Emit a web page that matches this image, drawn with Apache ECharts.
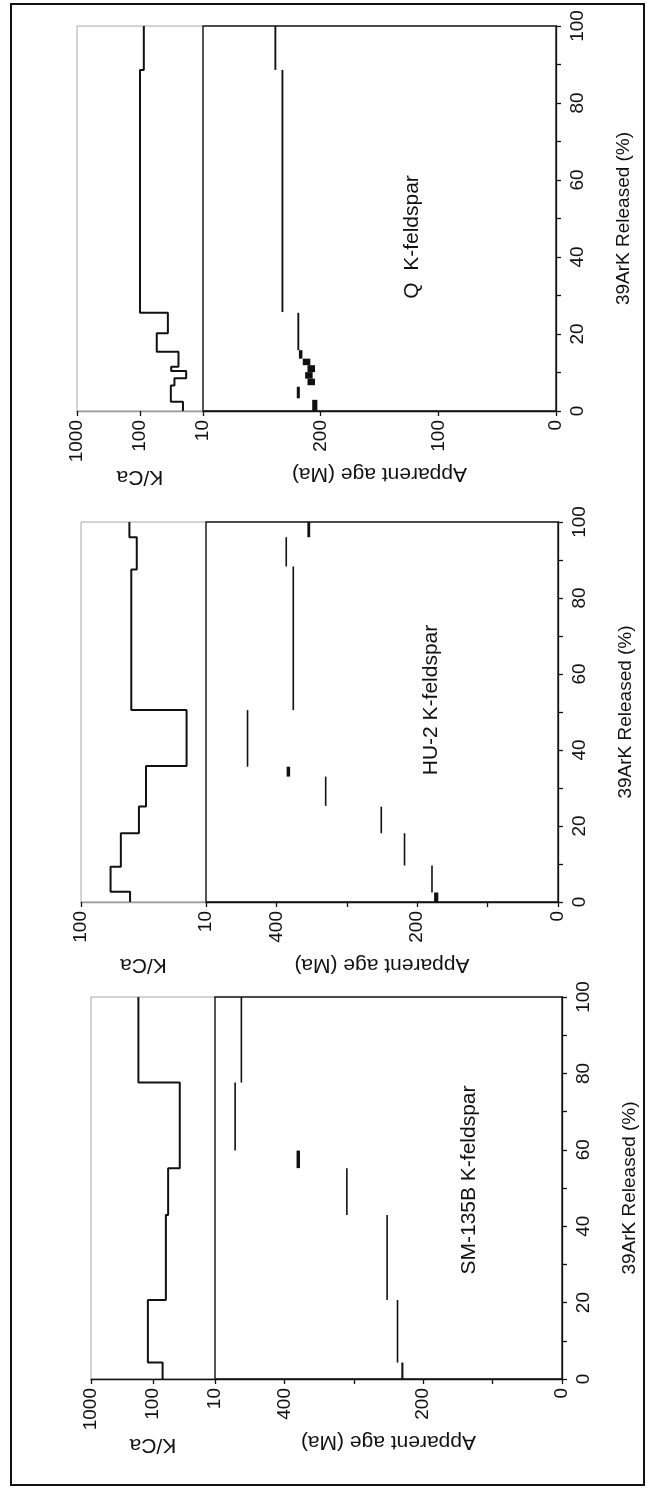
<!DOCTYPE html>
<html><head><meta charset="utf-8">
<script src="https://cdn.jsdelivr.net/npm/echarts@6/dist/echarts.min.js"></script>
<style>html,body{margin:0;padding:0;background:#fff}#c{width:652px;height:1490px}</style>
</head><body><div id="c"></div>
<script>
// ---------------- DATA ----------------
const panelTitles = ['SM-135B K-feldspar', 'HU-2 K-feldspar', 'Q  K-feldspar'];
const pctAxisName = '39ArK Released (%)';
const kcaAxisName = 'K/Ca';
const ageAxisName = 'Apparent age (Ma)';

// K/Ca step spectra: cumulative 39ArK released (%) boundaries and K/Ca of each step
const kca1Pct = [0, 4.3, 20.7, 42.9, 55.2, 77.6, 100];
const kca1Val = [70, 121, 62, 57, 37, 172];
const kca2Pct = [0, 2.7, 9.3, 18.1, 25.1, 35.8, 50.5, 87.5, 96, 100];
const kca2Val = [40.5, 58, 48, 34.4, 30.2, 14.3, 39.6, 35.8, 41];
const kca3Pct = [0, 2.4, 6.6, 8.5, 10.4, 11.5, 15.4, 20.2, 25.5, 88.6, 100];
const kca3Val = [20.8, 32.4, 28.4, 18.5, 32, 24.5, 54.2, 36.1, 100, 87];

// Age spectra: step start %, end %, apparent age (Ma), half-width of error (Ma)
const age1Start = [0, 4.3, 20.7, 42.9, 55.2, 59.8, 77.6];
const age1End   = [4.3, 20.7, 42.9, 55.2, 59.8, 77.6, 100];
const age1Val   = [230, 237, 252, 310, 380, 471, 462];
const age1Err   = [1.5, 1, 1, 1, 2.5, 1, 1];

const age2Start = [0, 2.5, 9.6, 18.1, 25.3, 33, 35.6, 50.5, 88.3, 96];
const age2End   = [2.5, 9.6, 18.1, 25.1, 33, 35.6, 50.5, 88.3, 96, 100];
const age2Val   = [173, 179, 218, 251, 330, 383, 441, 376, 386, 354];
const age2Err   = [3, 1, 1, 1, 1, 2.5, 1, 1, 1, 2];

const age3Start = [0, 3.3, 6.7, 8.4, 10.1, 11.9, 13.6, 15.8, 25.7, 88.6];
const age3End   = [2.9, 6.3, 8.4, 10.1, 11.9, 13.6, 15.8, 25.5, 88.6, 100];
const age3Val   = [205, 219, 208, 210, 208, 212, 217, 219, 232.5, 238.5];
const age3Err   = [2.2, 1.3, 3.2, 3.2, 3.2, 3.2, 1.5, 0.8, 0.8, 0.8];

// Axis ranges
const kcaMin = [10, 10, 10];
const kcaMax = [1000, 100, 1000];
const ageMax = [500, 500, 300];
const ageLabelStep = [200, 200, 100];
const pctLabelStep = 20;

// ---------------- LAYOUT ----------------
const FONT = '"Liberation Sans", Arial, sans-serif';
const layout = [
  {top: 997, height: 382, kLeft: 91, split: 215, right: 562, title: [469, 1180], kcaLine: '#111'},
  {top: 522, height: 380, kLeft: 81, split: 206, right: 558, title: [431, 700], kcaLine: '#999'},
  {top: 26,  height: 385, kLeft: 77, split: 203, right: 556, title: [412, 237], kcaLine: '#999'}
];
const kcaPct = [kca1Pct, kca2Pct, kca3Pct];
const kcaVal = [kca1Val, kca2Val, kca3Val];
const ageS = [age1Start, age2Start, age3Start];
const ageE = [age1End, age2End, age3End];
const ageV = [age1Val, age2Val, age3Val];
const ageErr = [age1Err, age2Err, age3Err];

const grid = [], xAxis = [], yAxis = [], series = [], graphic = [];

layout.forEach((L, i) => {
  const gK = grid.length;
  grid.push({left: L.kLeft, top: L.top, width: L.split - L.kLeft, height: L.height,
    show: true, borderColor: '#a8a8a8', borderWidth: 1, backgroundColor: 'transparent'});
  const gA = grid.length;
  grid.push({left: L.split, top: L.top, width: L.right - L.split, height: L.height,
    show: true, borderColor: '#111', borderWidth: 1.3, backgroundColor: 'transparent'});

  // K/Ca axis (log)
  xAxis.push({type: 'log', logBase: 10, gridIndex: gK, min: kcaMin[i], max: kcaMax[i], inverse: true,
    position: 'bottom',
    axisLine: {show: true, lineStyle: {color: L.kcaLine, width: 1.3}},
    axisTick: {show: true, length: 5, lineStyle: {color: '#111', width: 1.3}},
    minorTick: {show: false}, splitLine: {show: false},
    axisLabel: {rotate: 90, margin: 9, fontSize: 19, color: '#111', fontFamily: FONT, showMaxLabel: true, showMinLabel: true,
      formatter: v => String(Math.round(v))},
    name: kcaAxisName, nameLocation: 'middle', nameRotate: 180, nameGap: 52,
    nameTextStyle: {fontSize: 21, color: '#111', fontFamily: FONT}});
  yAxis.push({type: 'value', gridIndex: gK, min: 0, max: 100, show: false});

  // Age axis
  xAxis.push({type: 'value', gridIndex: gA, min: 0, max: ageMax[i], interval: 100, inverse: true,
    position: 'bottom',
    axisLine: {show: true, lineStyle: {color: '#111', width: 1.3}},
    axisTick: {show: true, length: 5, lineStyle: {color: '#111', width: 1.3}},
    splitLine: {show: false},
    axisLabel: {rotate: 90, margin: 9, fontSize: 19, color: '#111', fontFamily: FONT, showMaxLabel: false,
      formatter: v => (v % ageLabelStep[i] === 0 && v < ageMax[i]) ? String(v) : ''},
    name: ageAxisName, nameLocation: 'middle', nameRotate: 180, nameGap: 52,
    nameTextStyle: {fontSize: 21, color: '#111', fontFamily: FONT}});
  yAxis.push({type: 'value', gridIndex: gA, min: 0, max: 100, interval: 10, position: 'right',
    axisLine: {show: true, lineStyle: {color: '#111', width: 1.3}},
    axisTick: {show: true, length: 5, lineStyle: {color: '#111', width: 1.3}},
    splitLine: {show: false},
    axisLabel: {rotate: 90, margin: 12, fontSize: 19, color: '#111', fontFamily: FONT,
      formatter: v => (v % pctLabelStep === 0) ? String(v) : ''},
    name: pctAxisName, nameLocation: 'middle', nameRotate: 90, nameGap: 58,
    nameTextStyle: {fontSize: 19, color: '#111', fontFamily: FONT}});

  // K/Ca step line built from the step arrays
  const pts = [];
  kcaVal[i].forEach((v, k) => { pts.push([v, kcaPct[i][k]]); pts.push([v, kcaPct[i][k + 1]]); });
  series.push({type: 'line', xAxisIndex: gK, yAxisIndex: gK, data: pts, showSymbol: false, symbol: 'none',
    lineStyle: {color: '#111', width: 2}, animation: false, silent: true});

  // Age steps as boxes (age ± err over the % interval)
  const d = ageV[i].map((v, k) => [v, ageS[i][k], ageE[i][k], ageErr[i][k]]);
  series.push({type: 'custom', xAxisIndex: gA, yAxisIndex: gA, data: d, encode: {x: 0, y: [1, 2]},
    animation: false, silent: true,
    renderItem: (params, api) => {
      const v = api.value(0), e = api.value(3);
      const a = api.coord([v + e, api.value(1)]);
      const b = api.coord([v - e, api.value(2)]);
      let w = Math.abs(b[0] - a[0]);
      const cx = (a[0] + b[0]) / 2;
      w = Math.max(w, 1.6);
      return {type: 'rect', shape: {x: cx - w / 2, y: Math.min(a[1], b[1]), width: w, height: Math.abs(b[1] - a[1])},
        style: {fill: '#111'}};
    }});

  graphic.push({type: 'text', x: L.title[0], y: L.title[1], rotation: Math.PI / 2,
    style: {text: panelTitles[i], fontSize: 21, fontFamily: FONT, fill: '#111', align: 'center', verticalAlign: 'middle'}});
});

graphic.push({type: 'rect', shape: {x: 11, y: 4, width: 633, height: 1481},
  style: {fill: 'none', stroke: '#111', lineWidth: 2}, z: 10});

const chart = echarts.init(document.getElementById('c'), null, {renderer: 'canvas'});
chart.setOption({animation: false, backgroundColor: '#fff', grid, xAxis, yAxis, series, graphic});
</script></body></html>
